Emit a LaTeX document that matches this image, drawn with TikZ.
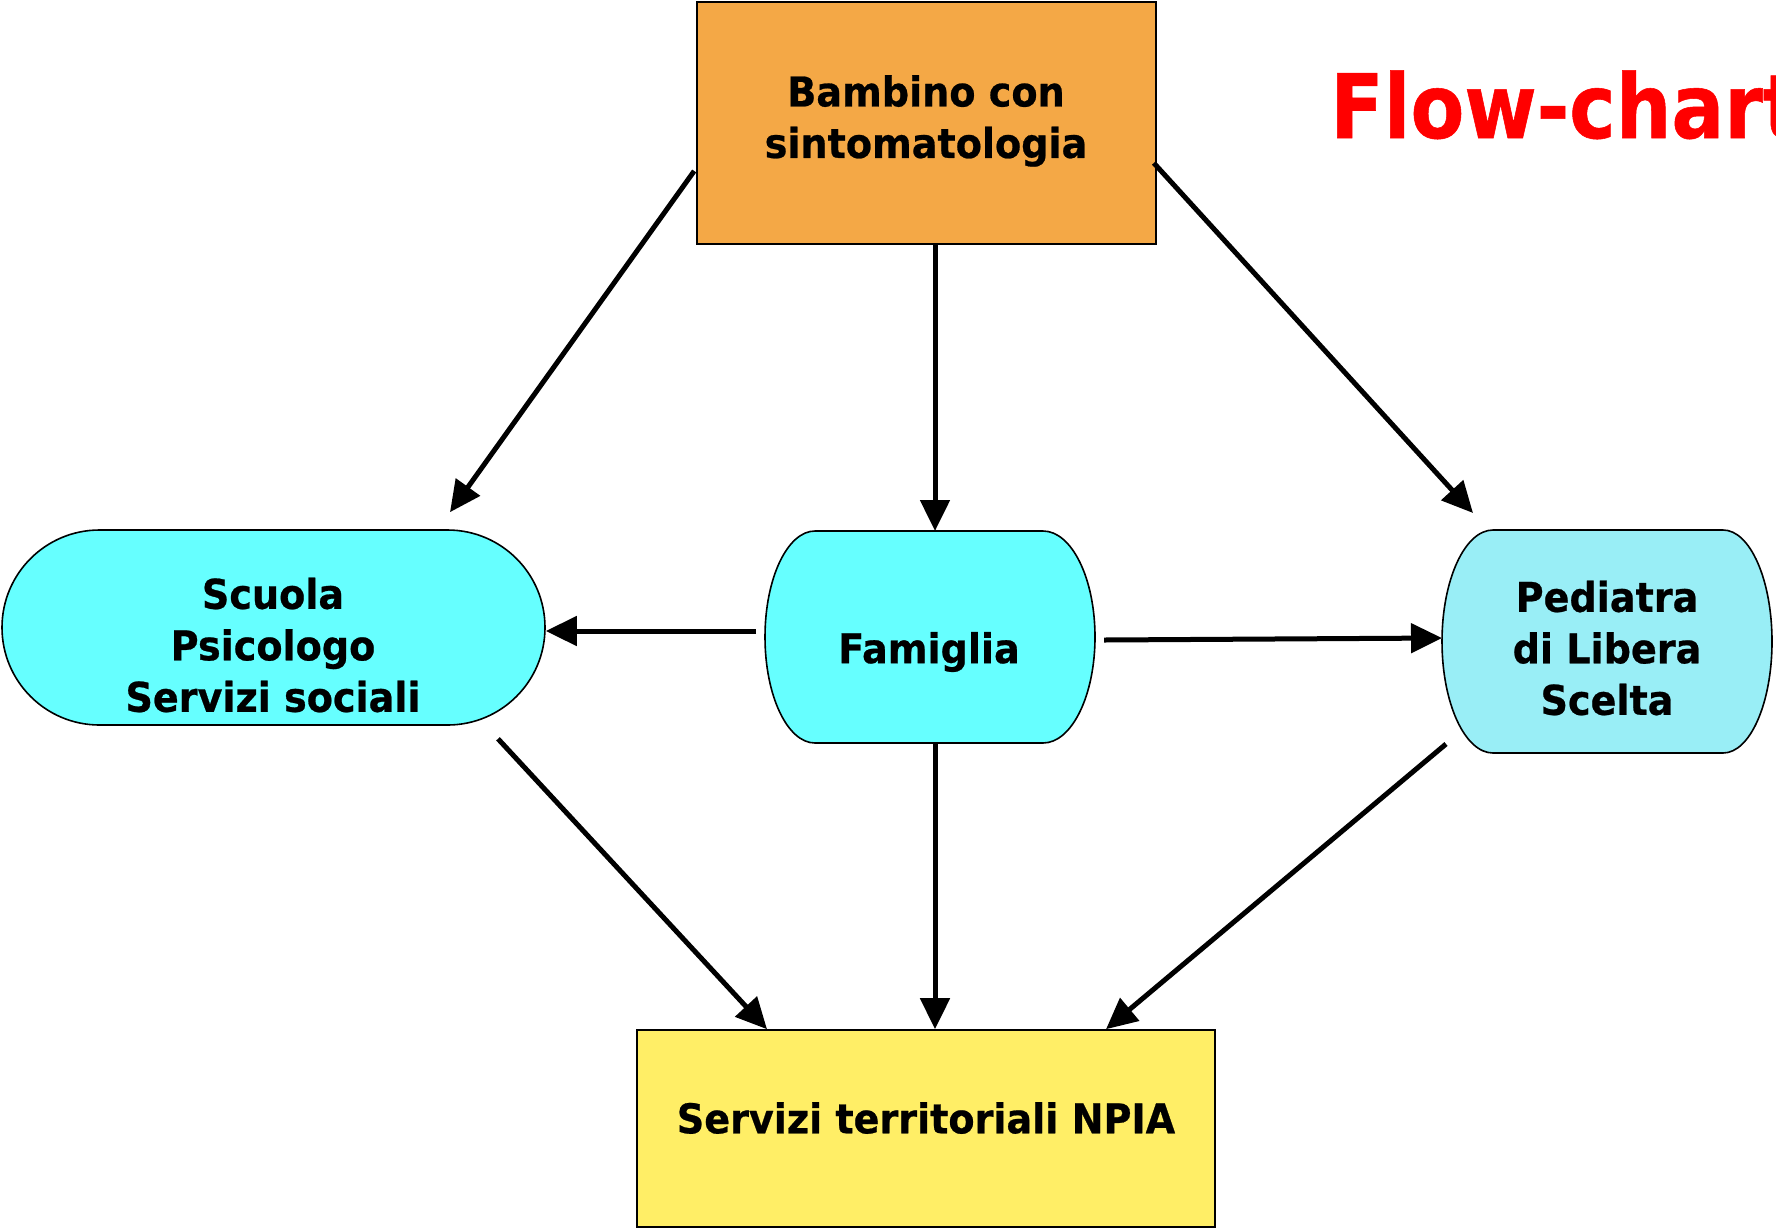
\documentclass[tikz,border=0pt]{standalone}
\usepackage{fontspec}
\usetikzlibrary{arrows.meta,calc}
\newfontfamily\bodyfont{DejaVu Sans}[FakeStretch=0.93, BoldFeatures={FakeBold=0.6}]
\newfontfamily\titlefont{DejaVu Sans}[FakeStretch=0.88, BoldFeatures={FakeBold=0.6}]
\definecolor{boxorange}{HTML}{F4A846}
\definecolor{boxcyan}{HTML}{66FFFF}
\definecolor{boxlightcyan}{HTML}{99EEF6}
\definecolor{boxyellow}{HTML}{FFEE66}
\tikzset{
  frame/.style={draw=none, fill=none, inner sep=0pt, outer sep=0pt},
  outline/.style={draw=black, line width=1.6pt},
  label text/.style={inner sep=0pt, align=center, text=black,
    font=\bodyfont\bfseries\fontsize{41}{51.5}\selectfont},
  flow/.style={line width=5pt, draw=black, -{Triangle[length=31pt,width=29pt]}}
}
\begin{document}
\begin{tikzpicture}[x=1pt,y=1pt]
\useasboundingbox (0,0) rectangle (1776,-1229);
\clip (0,0) rectangle (1776,-1229);
\fill[white] (0,0) rectangle (1776,-1229);

% shapes
\node[outline, fill=boxorange, minimum width=459pt, minimum height=242pt, inner sep=0pt] (top) at (926.5,-123) {};
\node[outline, fill=boxcyan, minimum width=543pt, minimum height=195pt, rounded corners=97.5pt, inner sep=0pt] (scuola) at (273.5,-627.5) {};
\node[frame, minimum width=330pt, minimum height=212pt] (fam) at (930,-637) {};
\node[frame, minimum width=330pt, minimum height=223pt] (ped) at (1607,-641.5) {};
\node[outline, fill=boxyellow, minimum width=578pt, minimum height=197pt, inner sep=0pt] (npia) at (926,-1128.5) {};

\draw[outline, fill=boxcyan] (815,-531) -- (1043,-531)
  arc[start angle=90, end angle=-90, x radius=52pt, y radius=106pt]
  -- (815,-743)
  arc[start angle=270, end angle=90, x radius=50pt, y radius=106pt] -- cycle;
\draw[outline, fill=boxlightcyan] (1493,-530) -- (1723,-530)
  arc[start angle=90, end angle=-90, x radius=49pt, y radius=111.5pt]
  -- (1493,-753)
  arc[start angle=270, end angle=90, x radius=51pt, y radius=111.5pt] -- cycle;

% texts
\node[label text] (toptext) at (926,-121) {Bambino con\\sintomatologia};
\node[label text] (scuolatext) at (273,-645) {Scuola\\Psicologo\\Servizi sociali};
\node[label text] (famtext) at (929,-652) {Famiglia};
\node[label text] (pedtext) at (1607,-648) {Pediatra\\di Libera\\Scelta};
\node[label text] (npiatext) at (926,-1118) {Servizi territoriali NPIA};
\node[anchor=base west, inner sep=0pt, text=red, font=\titlefont\bfseries\fontsize{89}{100}\selectfont] (title) at (1330,-138) {Flow-chart};

% connector end points
\coordinate (a1s) at ([xshift=-2pt,yshift=-48pt]top.west);
\coordinate (a1e) at ([xshift=176.5pt,yshift=17pt]scuola.north);
\coordinate (a2s) at ([xshift=8.5pt]top.south);
\coordinate (a3s) at ([xshift=-3pt,yshift=-40pt]top.east);
\coordinate (a3e) at ([xshift=-134pt,yshift=17pt]ped.north);
\coordinate (a4s) at ([xshift=-9pt,yshift=6pt]fam.west);
\coordinate (a5s) at ([xshift=9pt,yshift=-3pt]fam.east);
\coordinate (a5e) at ([yshift=3.5pt]ped.west);
\coordinate (a6s) at ([xshift=224.5pt,yshift=-13pt]scuola.south);
\coordinate (a6e) at ([xshift=-159pt]npia.north);
\coordinate (a7s) at ([xshift=5pt]fam.south);
\coordinate (a8s) at ([xshift=-161pt,yshift=9pt]ped.south);
\coordinate (a8e) at ([xshift=180pt]npia.north);

% connectors
\draw[flow] (a1s) -- (a1e);
\draw[flow] (a2s) -- (a2s |- fam.north);
\draw[flow] (a3s) -- (a3e);
\draw[flow] (a4s) -- (a4s -| scuola.east);
\draw[flow] (a5s) -- (a5e);
\draw[flow] (a6s) -- (a6e);
\draw[flow] (a7s) -- (a7s |- npia.north);
\draw[flow] (a8s) -- (a8e);
\end{tikzpicture}
\end{document}
